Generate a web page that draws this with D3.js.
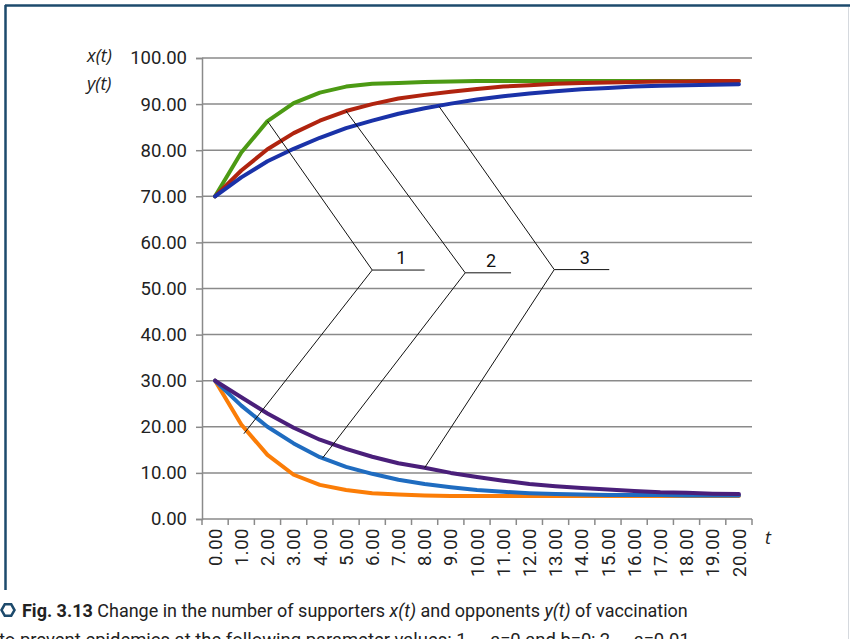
<!DOCTYPE html>
<html>
<head>
<meta charset="utf-8">
<script src="https://cdn.jsdelivr.net/npm/d3@7"></script>
<style>
  html, body { margin: 0; padding: 0; background: #fff; }
  svg { display: block; }
</style>
</head>
<body>
<script>
// ---- data ----
const tValues = d3.range(0, 21); // categories 0..20
const xLabels = tValues.map(t => t.toFixed(2));
const yTicks = [0, 10, 20, 30, 40, 50, 60, 70, 80, 90, 100];

// supporters x(t), three parameter sets
const xGreen = [70, 79.5, 86.3, 90.2, 92.5, 93.8, 94.4, 94.6, 94.8, 94.9, 95.0, 95.0, 95.0, 95.0, 95.0, 95.0, 95.0, 95.0, 95.0, 95.0, 95.0];
const xRed   = [70, 75.6, 80.2, 83.7, 86.4, 88.5, 90.0, 91.2, 92.0, 92.7, 93.3, 93.8, 94.1, 94.4, 94.6, 94.7, 94.8, 94.9, 94.9, 95.0, 95.0];
const xBlue  = [70, 74.1, 77.6, 80.3, 82.7, 84.8, 86.4, 87.9, 89.1, 90.1, 91.0, 91.7, 92.3, 92.8, 93.2, 93.5, 93.8, 94.0, 94.1, 94.2, 94.3];
// opponents y(t)
const yOrange = [30, 20.5, 13.9, 9.6, 7.4, 6.3, 5.6, 5.3, 5.1, 5.0, 5.0, 5.0, 5.0, 5.0, 5.0, 5.0, 5.0, 5.0, 5.0, 5.0, 5.0];
const yBlue   = [30, 24.6, 20.0, 16.4, 13.4, 11.3, 9.8, 8.5, 7.6, 6.9, 6.3, 5.9, 5.6, 5.4, 5.3, 5.2, 5.2, 5.2, 5.1, 5.1, 5.1];
const yPurple = [30, 26.4, 22.9, 19.8, 17.2, 15.2, 13.5, 12.1, 11.1, 10.0, 9.1, 8.3, 7.6, 7.1, 6.7, 6.4, 6.1, 5.8, 5.7, 5.5, 5.4];

const seriesNames = ["xGreen", "xRed", "xBlue", "yOrange", "yBlue", "yPurple"];
const seriesData = [xGreen, xRed, xBlue, yOrange, yBlue, yPurple];
const seriesColors = ["#4c9a14", "#b0240f", "#1a32a8", "#fb7d07", "#1f6cc0", "#4a1f7a"];

// leader-line annotations: label, vertex (t,value), upper anchor (t,value), lower anchor (t,value)
const annoLabels = ["1", "2", "3"];
const annoVertex = [[6.0, 54.0], [9.55, 53.4], [12.95, 54.1]];
const annoUpper  = [[2.0, 86.3], [5.0, 88.5], [8.55, 89.5]];
const annoLower  = [[1.1, 18.5], [4.1, 13.2], [8.0, 11.1]];
const annoTailLen = [2.0, 1.75, 2.1]; // in t-units

// ---- layout ----
const W = 850, H = 639;
const svg = d3.select("body").append("svg").attr("width", W).attr("height", H);

// frame
svg.append("line").attr("x1", 5).attr("x2", 850).attr("y1", 5.5).attr("y2", 5.5)
  .attr("stroke", "#1d4a6c").attr("stroke-width", 2.5);
svg.append("line").attr("x1", 5.5).attr("x2", 5.5).attr("y1", 5).attr("y2", 590)
  .attr("stroke", "#1d4a6c").attr("stroke-width", 2.5);
svg.append("line").attr("x1", 848.5).attr("x2", 848.5).attr("y1", 7).attr("y2", 639)
  .attr("stroke", "#d5d9de").attr("stroke-width", 1);

const plotL = 202, plotR = 752, plotT = 58, plotB = 519;
const xBand = d3.scaleBand().domain(xLabels).range([plotL, plotR]).padding(0);
const xPos = t => plotL + xBand.bandwidth() * (t + 0.5);
const y = d3.scaleLinear().domain([0, 100]).range([plotB, plotT]);

// gridlines
svg.append("g").selectAll("line").data(yTicks.filter(v => v > 0)).join("line")
  .attr("x1", plotL).attr("x2", plotR)
  .attr("y1", d => y(d)).attr("y2", d => y(d))
  .attr("stroke", "#8a8a8a").attr("stroke-width", 1.5);

// y axis
const yAxis = d3.axisLeft(y).tickValues(yTicks).tickFormat(d3.format(".2f")).tickSize(6).tickPadding(9);
const gy = svg.append("g").attr("transform", `translate(${plotL},0)`).call(yAxis);
gy.select(".domain").attr("stroke", "#8a8a8a").attr("stroke-width", 1.5);
gy.selectAll(".tick line").attr("stroke", "#8a8a8a").attr("stroke-width", 1.5);
gy.selectAll(".tick text").attr("font-family", "Roboto, sans-serif").attr("font-size", 18.5)
  .attr("fill", "#222");

// x axis (ticks between categories)
const gx = svg.append("g").attr("transform", `translate(0,${plotB})`);
gx.append("line").attr("x1", plotL).attr("x2", plotR).attr("y1", 0).attr("y2", 0)
  .attr("stroke", "#8a8a8a").attr("stroke-width", 1.5);
gx.selectAll("line.tk").data(d3.range(0, 22)).join("line").attr("class", "tk")
  .attr("x1", i => plotL + i * xBand.bandwidth()).attr("x2", i => plotL + i * xBand.bandwidth())
  .attr("y1", 0).attr("y2", 6).attr("stroke", "#8a8a8a").attr("stroke-width", 1.5);
gx.selectAll("text").data(xLabels).join("text")
  .attr("transform", d => `translate(${xBand(d) + xBand.bandwidth() / 2},9) rotate(-90)`)
  .attr("text-anchor", "end").attr("dy", "0.36em")
  .attr("font-family", "Roboto, sans-serif").attr("font-size", 18.5).attr("fill", "#222")
  .attr("letter-spacing", 0.5)
  .text(d => d);

// axis titles
const titleFont = "'Open Sans', 'DejaVu Sans', sans-serif";
svg.append("text").attr("x", 87).attr("y", 62).attr("font-family", titleFont)
  .attr("font-style", "italic").attr("font-size", 18).attr("fill", "#222").text("x(t)");
svg.append("text").attr("x", 87).attr("y", 90).attr("font-family", titleFont)
  .attr("font-style", "italic").attr("font-size", 18).attr("fill", "#222").text("y(t)");
svg.append("text").attr("x", 765).attr("y", 544).attr("font-family", titleFont)
  .attr("font-style", "italic").attr("font-size", 18).attr("fill", "#222").text("t");

// series lines
const line = d3.line().x((d, i) => xPos(i)).y(d => y(d));
svg.append("g").selectAll("path").data(seriesData).join("path")
  .attr("d", d => line(d)).attr("fill", "none")
  .attr("stroke", (d, i) => seriesColors[i]).attr("stroke-width", 4)
  .attr("stroke-linejoin", "round").attr("stroke-linecap", "round");

// annotations
const ga = svg.append("g");
annoLabels.forEach((lab, i) => {
  const vx = xPos(annoVertex[i][0]), vy = y(annoVertex[i][1]);
  ga.append("line").attr("x1", vx).attr("y1", vy)
    .attr("x2", xPos(annoUpper[i][0])).attr("y2", y(annoUpper[i][1]))
    .attr("stroke", "#111").attr("stroke-width", 1);
  ga.append("line").attr("x1", vx).attr("y1", vy)
    .attr("x2", xPos(annoLower[i][0])).attr("y2", y(annoLower[i][1]))
    .attr("stroke", "#111").attr("stroke-width", 1);
  const ex = xPos(annoVertex[i][0] + annoTailLen[i]);
  ga.append("line").attr("x1", vx).attr("y1", vy).attr("x2", ex).attr("y2", vy)
    .attr("stroke", "#111").attr("stroke-width", 1);
  ga.append("text").attr("x", (vx + ex) / 2 + 3).attr("y", vy - 6)
    .attr("text-anchor", "middle").attr("font-family", "Roboto, sans-serif")
    .attr("font-size", 18).attr("fill", "#111").text(lab);
});

// caption
const cap = svg.append("g");
cap.append("path")
  .attr("d", d3.range(6).map(k => {
    const a = Math.PI / 3 * k;
    return [8 + 6.5 * Math.cos(a), 610 + 6.5 * Math.sin(a)];
  }).map((p, k) => (k ? "L" : "M") + p[0] + "," + p[1]).join("") + "Z")
  .attr("fill", "none").attr("stroke", "#1d4a6c").attr("stroke-width", 2.5);
const capText = cap.append("text").attr("x", 0).attr("y", 0)
  .attr("font-family", "Roboto, sans-serif").attr("font-size", 19).attr("fill", "#222");
capText.append("tspan").attr("font-weight", "bold").text("Fig. 3.13");
capText.append("tspan").text(" Change in the number of supporters ");
capText.append("tspan").attr("font-style", "italic").text("x(t)");
capText.append("tspan").text(" and opponents ");
capText.append("tspan").attr("font-style", "italic").text("y(t)");
capText.append("tspan").text(" of vaccination");
const len1 = capText.node().getComputedTextLength() || 666;
capText.attr("transform", `translate(22,617) scale(${666 / len1},1)`);
const cap2 = cap.append("text").attr("x", 0).attr("y", 0)
  .attr("font-family", "Roboto, sans-serif").attr("font-size", 19).attr("fill", "#222")
  .text("to prevent epidemics at the following parameter values: 1 — a=0 and b=0; 2 — a=0.01");
const len2 = cap2.node().getComputedTextLength() || 691;
cap2.attr("transform", `translate(-1,646) scale(${691 / len2},1)`);
</script>
</body>
</html>
